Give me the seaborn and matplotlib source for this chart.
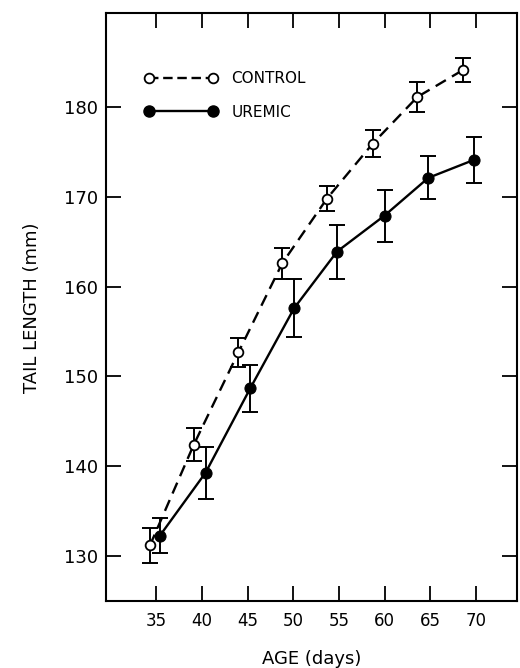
import matplotlib
matplotlib.use("Agg")
import matplotlib.pyplot as plt
import seaborn as sns
import pandas as pd
from matplotlib.lines import Line2D

# Data
control_age = [34.3, 39.1, 44.0, 48.8, 53.7, 58.7, 63.6, 68.6]
control_len = [131.2, 142.4, 152.7, 162.6, 169.8, 175.9, 181.1, 184.1]
control_err = [1.9, 1.85, 1.6, 1.7, 1.4, 1.5, 1.65, 1.3]

uremic_age = [35.4, 40.4, 45.3, 50.1, 54.8, 60.0, 64.8, 69.8]
uremic_len = [132.3, 139.3, 148.7, 157.6, 163.9, 167.9, 172.1, 174.1]
uremic_err = [1.95, 2.9, 2.6, 3.2, 3.0, 2.9, 2.4, 2.6]

x_ticks = [35, 40, 45, 50, 55, 60, 65, 70]
y_ticks = [130, 140, 150, 160, 170, 180]

sns.set_theme(style="white")
plt.rcParams['font.family'] = ['DejaVu Sans']
plt.rcParams['text.color'] = 'black'
plt.rcParams['axes.labelcolor'] = 'black'
plt.rcParams['xtick.color'] = 'black'
plt.rcParams['ytick.color'] = 'black'

fig = plt.figure(figsize=(5.2, 6.68), dpi=100)
ax = fig.add_axes([0.204, 0.100, 0.790, 0.880])

df_c = pd.DataFrame({"age": control_age, "len": control_len})
df_u = pd.DataFrame({"age": uremic_age, "len": uremic_len})

lw = 1.7
ax.errorbar(control_age, control_len, yerr=control_err, fmt='none',
            ecolor='black', elinewidth=1.4, capsize=6, capthick=1.4, zorder=2)
ax.errorbar(uremic_age, uremic_len, yerr=uremic_err, fmt='none',
            ecolor='black', elinewidth=1.4, capsize=6, capthick=1.4, zorder=2)

sns.lineplot(data=df_c, x="age", y="len", ax=ax, color='black', lw=lw,
             linestyle=(0, (5, 3)), marker='o', markersize=7,
             markerfacecolor='white', markeredgecolor='black',
             markeredgewidth=1.3, zorder=3)
sns.lineplot(data=df_u, x="age", y="len", ax=ax, color='black', lw=lw,
             linestyle='-', marker='o', markersize=8,
             markerfacecolor='black', markeredgecolor='black', zorder=3)

ax.set_xlim(29.5, 74.5)
ax.set_ylim(125.0, 190.4)
ax.set_xticks(x_ticks)
ax.set_xticklabels([str(t) for t in x_ticks], fontsize=12)
ax.set_yticks(y_ticks)
ax.set_yticklabels([str(t) for t in y_ticks], fontsize=13)
ax.tick_params(axis='both', direction='in', length=11, width=1.3,
               top=True, right=True, bottom=True, left=True,
               labeltop=False, labelright=False, colors='black')
ax.tick_params(axis='x', pad=8)
ax.tick_params(axis='y', pad=6)

for s in ax.spines.values():
    s.set_visible(True)
    s.set_color('black')
    s.set_linewidth(1.5)

ax.set_xlabel("AGE (days)", fontsize=13, labelpad=14, color='black')
ax.set_ylabel("TAIL LENGTH (mm)", fontsize=13, labelpad=16, color='black')

handles = [
    Line2D([], [], color='black', lw=lw, linestyle=(0, (4, 2)), marker='o',
           markersize=7, markerfacecolor='white', markeredgecolor='black',
           markeredgewidth=1.3),
    Line2D([], [], color='black', lw=lw, linestyle='-', marker='o',
           markersize=8, markerfacecolor='black', markeredgecolor='black'),
]
leg = ax.legend(handles, ["CONTROL", "UREMIC"], loc='upper left',
                bbox_to_anchor=(0.06, 0.925), frameon=False, numpoints=2,
                handlelength=4.8, handletextpad=0.9, labelspacing=1.2,
                fontsize=11, labelcolor='black')

fig.savefig("out.png", dpi=100)
